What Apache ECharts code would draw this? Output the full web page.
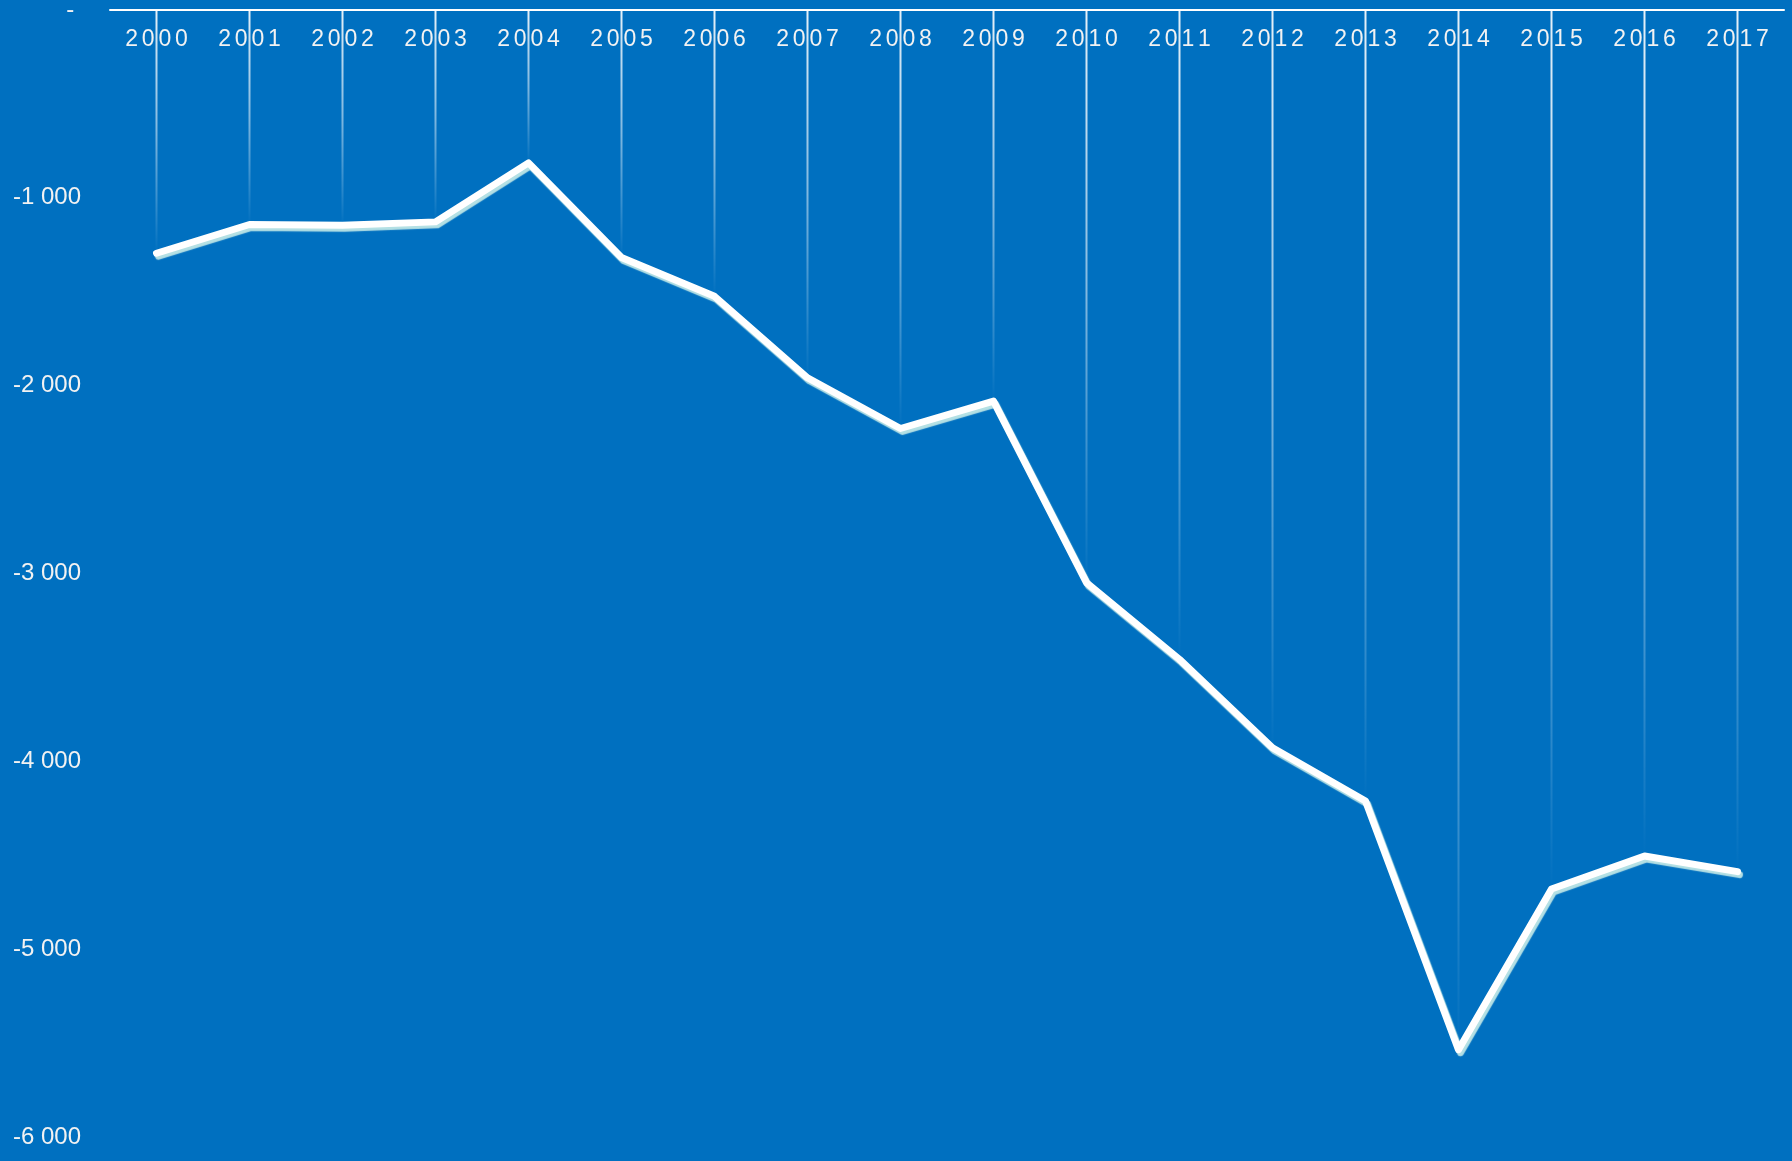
<!DOCTYPE html>
<html>
<head>
<meta charset="utf-8">
<script src="https://cdn.jsdelivr.net/npm/echarts@6/dist/echarts.min.js"></script>
<style>
html,body{margin:0;padding:0;background:#0070C0;}
#chart{width:1792px;height:1161px;}
</style>
</head>
<body>
<div id="chart"></div>
<script>
var years = ['2000','2001','2002','2003','2004','2005','2006','2007','2008','2009','2010','2011','2012','2013','2014','2015','2016','2017'];
var values = [-1295,-1142,-1146,-1128,-814,-1318,-1524,-1958,-2228,-2082,-3049,-3457,-3928,-4211,-5535,-4680,-4504,-4587];
var yMin = -6000, yMax = 0, yStep = 1000;

function fmtY(v){
  if (v === 0) return '- ';
  var s = Math.abs(v).toString();
  var out = s.replace(/\B(?=(\d{3})+(?!\d))/g, ' ');
  return (v < 0 ? '-' : '') + out;
}
function spaced(s){ return s.split('').join('\u200a\u200a'); }

var chart = echarts.init(document.getElementById('chart'), null, {renderer:'canvas'});
chart.setOption({
  backgroundColor: '#0070C0',
  animation: false,
  grid: {left: 110, right: 8, top: 10, bottom: 24, containLabel: false, outerBoundsMode: 'none'},
  xAxis: {
    type: 'category',
    data: years,
    position: 'top',
    axisLine: {onZero: false, lineStyle: {color: '#ffffff', width: 2}},
    axisTick: {show: false},
    axisLabel: {inside: true, color: '#f2f2f2', fontSize: 23, fontFamily: 'Liberation Sans, Arial, sans-serif', margin: 18, formatter: spaced},
    splitLine: {show: false}
  },
  yAxis: {
    type: 'value',
    min: yMin, max: yMax, interval: yStep,
    axisLine: {show: false},
    axisTick: {show: false},
    splitLine: {show: false},
    axisLabel: {color: '#f2f2f2', fontSize: 24, fontFamily: 'Liberation Sans, Arial, sans-serif', margin: 29, formatter: fmtY}
  },
  series: [
    {
      type: 'bar',
      data: values,
      barWidth: 2,
      silent: true,
      z: 1,
      itemStyle: {
        color: new echarts.graphic.LinearGradient(0, 0, 0, 1, [
          {offset: 0, color: 'rgba(255,255,255,0.9)'},
          {offset: 0.5, color: 'rgba(255,255,255,0.5)'},
          {offset: 1, color: 'rgba(255,255,255,0)'}
        ])
      }
    },
    {
      type: 'line',
      data: values,
      symbol: 'none',
      z: 3,
      lineStyle: {
        color: '#ffffff',
        width: 7,
        cap: 'round',
        join: 'round',
        shadowColor: 'rgba(190,230,230,0.95)',
        shadowOffsetX: 2,
        shadowOffsetY: 3,
        shadowBlur: 1
      }
    }
  ]
});
</script>
</body>
</html>
